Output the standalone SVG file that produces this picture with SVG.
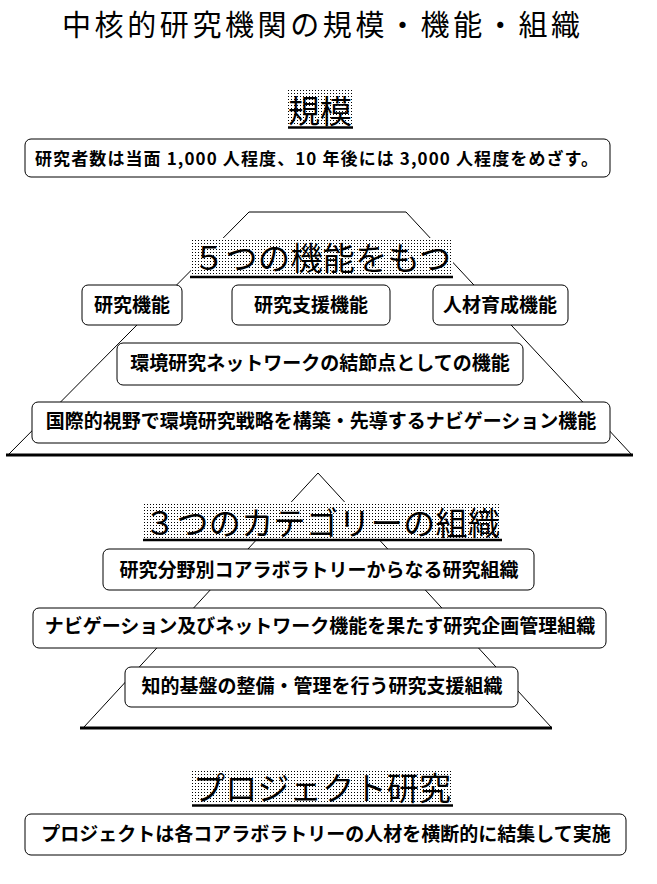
<svg xmlns="http://www.w3.org/2000/svg" width="657" height="884" viewBox="0 0 657 884">
<style>
.bg{fill:#fff}
.box{fill:#fff;stroke:#000;stroke-width:1}
.ln{fill:none;stroke:#000;stroke-width:1}
.base{stroke:#000;stroke-width:3}
.ul{stroke:#000;stroke-width:2.5}
.dot{fill:url(#dots)}
.t{font-family:"Noto Sans CJK JP","Noto Sans CJK SC",sans-serif;fill:#000}
.title{font-size:29px;text-anchor:middle}
.hd{font-size:32px}
.bt{font-size:19px;font-weight:bold;text-anchor:middle}
.bt1{font-size:17px;font-weight:bold}
</style>
<defs>
<pattern id="dots" width="3" height="3" patternUnits="userSpaceOnUse">
<rect width="3" height="3" fill="#fff"/>
<rect width="1" height="1" fill="#000"/>
</pattern>
</defs>
<rect class="bg" x="0" y="0" width="657" height="884"/>

<g id="title">
<text class="t title" x="321" y="36" textLength="518" lengthAdjust="spacing">中核的研究機関の規模・機能・組織</text>
</g>

<g id="connectors">
<polyline class="ln" points="8,455 249,212 406,212 632,455"/>
<line class="base" x1="6" y1="455" x2="633" y2="455"/>
<polyline class="ln" points="84,727 318,473 551,727"/>
<line class="base" x1="80" y1="728" x2="552" y2="728"/>
</g>

<g id="heading-scale">
<rect class="dot" x="288" y="90" width="64" height="36"/>
<text class="t hd" x="288" y="123" textLength="64" lengthAdjust="spacing">規模</text>
<line class="ul" x1="288" y1="127.5" x2="353" y2="127.5"/>
</g>

<g id="box-researchers">
<rect class="box" x="25" y="139" width="585" height="38" rx="6"/>
<text class="t bt1" x="35" y="165" textLength="563" lengthAdjust="spacing">研究者数は当面 1,000 人程度、10 年後には 3,000 人程度をめざす。</text>
</g>

<g id="heading-functions">
<rect class="dot" x="191" y="238" width="262" height="38"/>
<text class="t hd" x="193" y="270" textLength="258" lengthAdjust="spacing">５つの機能をもつ</text>
<line class="ul" x1="190" y1="277" x2="453" y2="277"/>
</g>

<g id="box-research">
<rect class="box" x="82" y="285" width="100" height="40" rx="6"/>
<text class="t bt" x="132" y="312">研究機能</text>
</g>

<g id="box-support">
<rect class="box" x="232" y="285" width="158" height="40" rx="6"/>
<text class="t bt" x="311" y="312">研究支援機能</text>
</g>

<g id="box-training">
<rect class="box" x="433" y="285" width="135" height="40" rx="6"/>
<text class="t bt" x="500" y="312">人材育成機能</text>
</g>

<g id="box-network">
<rect class="box" x="117" y="343" width="406" height="42" rx="6"/>
<text class="t bt" x="320" y="370">環境研究ネットワークの結節点としての機能</text>
</g>

<g id="box-navigation">
<rect class="box" x="32" y="402" width="578" height="41" rx="6"/>
<text class="t bt" x="321" y="428">国際的視野で環境研究戦略を構築・先導するナビゲーション機能</text>
</g>

<g id="heading-organization">
<rect class="dot" x="143" y="502" width="358" height="37"/>
<text class="t hd" x="144" y="535" textLength="356" lengthAdjust="spacing">３つのカテゴリーの組織</text>
<line class="ul" x1="143" y1="540" x2="502" y2="540"/>
</g>

<g id="box-core-labs">
<rect class="box" x="103" y="549" width="431" height="41" rx="6"/>
<text class="t bt" x="319" y="577">研究分野別コアラボラトリーからなる研究組織</text>
</g>

<g id="box-planning">
<rect class="box" x="33" y="608" width="573" height="40" rx="6"/>
<text class="t bt" x="320" y="633">ナビゲーション及びネットワーク機能を果たす研究企画管理組織</text>
</g>

<g id="box-infrastructure">
<rect class="box" x="125" y="667" width="393" height="40" rx="6"/>
<text class="t bt" x="322" y="693">知的基盤の整備・管理を行う研究支援組織</text>
</g>

<g id="heading-project">
<rect class="dot" x="192" y="770" width="261" height="34"/>
<text class="t hd" x="193" y="800" textLength="258" lengthAdjust="spacing">プロジェクト研究</text>
<line class="ul" x1="192" y1="805.5" x2="453" y2="805.5"/>
</g>

<g id="box-project">
<rect class="box" x="25" y="814" width="601" height="41" rx="6"/>
<text class="t bt" x="326" y="841">プロジェクトは各コアラボラトリーの人材を横断的に結集して実施</text>
</g>
</svg>
